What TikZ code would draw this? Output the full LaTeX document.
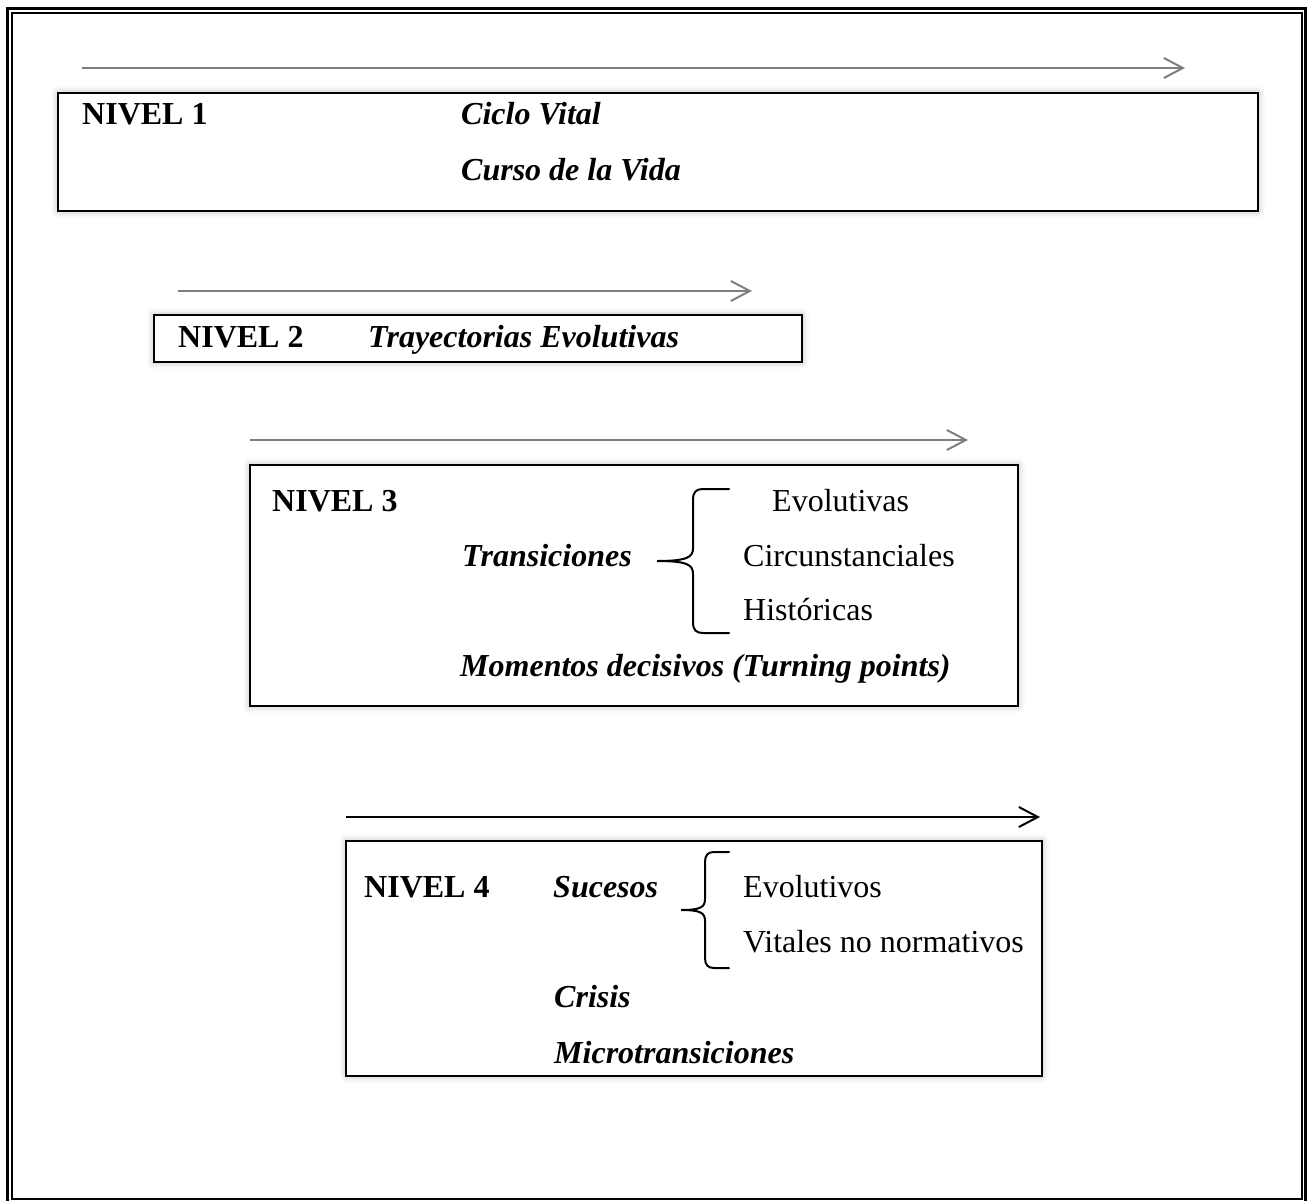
\documentclass[tikz,border=0pt]{standalone}
\usepackage{fontspec}
\setmainfont{Liberation Serif}
\usetikzlibrary{arrows.meta,shadows.blur}
\definecolor{flechagris}{HTML}{7F7F7F}
\tikzset{
  caja/.style={draw=black,line width=2pt,fill=white,
    blur shadow={shadow xshift=0pt,shadow yshift=0pt,shadow blur radius=7pt,shadow opacity=30}},
  flecha/.style={line width=2pt,draw=flechagris,
    -{Straight Barb[length=19pt,width=20pt,line width=2pt]}},
  texto/.style={anchor=base west,inner sep=0pt,font=\fontsize{32}{38}\selectfont},
  nivel/.style={texto,font=\fontsize{32}{38}\selectfont\bfseries},
  concepto/.style={texto,font=\fontsize{32}{38}\selectfont\bfseries\itshape},
  llave/.style={line width=2pt,line cap=round}
}

\begin{document}
\begin{tikzpicture}[x=1pt,y=-1pt]
    \useasboundingbox (0,0) rectangle (1308,1201);
    % marco doble
    \draw[line width=3pt] (7,8.5) rectangle (1305.5,1202);
    \draw[line width=2.5pt] (12,13) rectangle (1302,1199);

    % nivel 1
    \draw[flecha] (82,68) -- (1185,68);
    \draw[caja] (58,93) rectangle (1258,211);
    \node[nivel] (n1) at (82,125) {NIVEL 1};
    \node[concepto] (ciclo) at (461,125) {Ciclo Vital};
    \node[concepto] (curso) at (461,181) {Curso de la Vida};

    % nivel 2
    \draw[flecha] (178,291) -- (752,291);
    \draw[caja] (154,315) rectangle (802,362);
    \node[nivel] (n2) at (178,347) {NIVEL 2};
    \node[concepto] (trayec) at (368,347) {Trayectorias Evolutivas};

    % nivel 3
    \draw[flecha] (250,440) -- (968,440);
    \draw[caja] (250,465) rectangle (1018,706);
    \node[nivel] (n3) at (272,511) {NIVEL 3};
    \node[concepto] (trans) at (462,566) {Transiciones};
    \node[texto] (evolutivas) at (772,511) {Evolutivas};
    \node[texto] (circuns) at (743,566) {Circunstanciales};
    \node[texto] (histor) at (743,620) {Históricas};
    \node[concepto] (momentos) at (460,676) {Momentos decisivos (Turning points)};
    \draw[llave] (729,489) -- (703,489) .. controls (696,489) and (693,492) .. (693,500)
        -- (693,548) .. controls (693,557) and (688,561) .. (657,561)
        .. controls (688,561) and (693,565) .. (693,574)
        -- (693,622) .. controls (693,630) and (696,633) .. (703,633) -- (729,633);

    % nivel 4
    \draw[flecha,draw=black,line width=2.5pt] (346,817) -- (1040,817);
    \draw[caja] (346,841) rectangle (1042,1076);
    \node[nivel] (n4) at (364,897) {NIVEL 4};
    \node[concepto] (sucesos) at (553,897) {Sucesos};
    \node[texto] (evolutivos) at (743,897) {Evolutivos};
    \node[texto] (vitales) at (743,952) {Vitales no normativos};
    \node[concepto] (crisis) at (554,1007) {Crisis};
    \node[concepto] (micro) at (554,1063) {Microtransiciones};
    \draw[llave] (729,852) -- (714,852) .. controls (708,852) and (705,855) .. (705,862)
        -- (705,899) .. controls (705,907) and (701,910) .. (681,910)
        .. controls (701,910) and (705,913) .. (705,921)
        -- (705,958) .. controls (705,965) and (708,968) .. (714,968) -- (729,968);
\end{tikzpicture}
\end{document}
